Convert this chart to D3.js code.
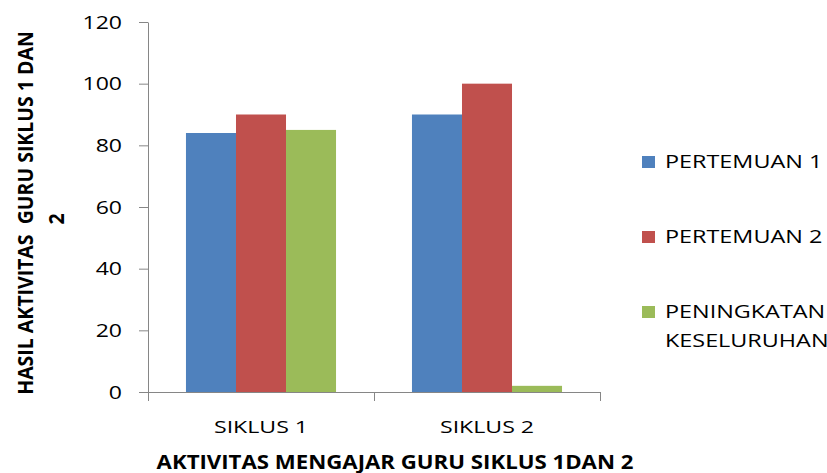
<!DOCTYPE html>
<html>
<head>
<meta charset="utf-8">
<script src="https://cdn.jsdelivr.net/npm/d3@7"></script>
<style>
  body { margin: 0; background: #fff; }
  text { font-family: "Open Sans", sans-serif; fill: #000; }
</style>
</head>
<body>
<svg id="chart" width="827" height="473"></svg>
<script>
const categories = ['SIKLUS 1', 'SIKLUS 2']
const seriesNames = ['PERTEMUAN 1', 'PERTEMUAN 2', 'PENINGKATAN KESELURUHAN']
const pertemuan1 = [84, 90]
const pertemuan2 = [90, 100]
const peningkatan = [85, 2]
const yTicks = [0, 20, 40, 60, 80, 100, 120]

const colors = ['#4f81bd', '#c0504d', '#9bbb59']
const axisColor = '#868686'
const stretch = 1.28

const svg = d3.select('#chart')

const values = [pertemuan1, pertemuan2, peningkatan]

const x0 = d3.scaleBand()
  .domain(categories)
  .range([148, 600])
  .paddingInner(0.336)
  .paddingOuter(0.168)

const x1 = d3.scaleBand()
  .domain(seriesNames)
  .range([0, x0.bandwidth()])

const y = d3.scaleLinear()
  .domain([0, 120])
  .range([392, 22])

// bars
const groups = svg.selectAll('g.cat')
  .data(categories)
  .enter()
  .append('g')
  .attr('class', 'cat')
  .attr('transform', d => `translate(${x0(d)},0)`)

groups.selectAll('rect')
  .data((d, i) => seriesNames.map((s, j) => ({ s, v: values[j][i], j })))
  .enter()
  .append('rect')
  .attr('x', d => x1(d.s))
  .attr('width', x1.bandwidth())
  .attr('y', d => y(d.v))
  .attr('height', d => y(0) - y(d.v))
  .style('fill', d => colors[d.j])

// y axis
const yAxis = svg.append('g')
  .attr('transform', 'translate(148,0)')
  .call(d3.axisLeft(y).tickValues(yTicks).tickSize(9).tickSizeOuter(0).tickFormat(''))
yAxis.selectAll('path, line').attr('stroke', axisColor)

svg.selectAll('text.ytick')
  .data(yTicks)
  .enter()
  .append('text')
  .attr('class', 'ytick')
  .attr('text-anchor', 'end')
  .attr('transform', d => `translate(122,${y(d) + 6.5}) scale(${stretch},1)`)
  .style('font-size', '18px')
  .text(d => d)

// x axis
const xb = d3.scaleLinear().domain([0, categories.length]).range(x0.range())
const xAxis = svg.append('g')
  .attr('transform', 'translate(0,392)')
  .call(d3.axisBottom(xb).tickValues(d3.range(categories.length + 1)).tickSize(9).tickSizeOuter(0).tickFormat(''))
xAxis.selectAll('path, line').attr('stroke', axisColor)

svg.selectAll('text.xcat')
  .data(categories)
  .enter()
  .append('text')
  .attr('class', 'xcat')
  .attr('text-anchor', 'middle')
  .attr('transform', d => `translate(${x0(d) + x0.bandwidth() / 2},433) scale(1.36,1)`)
  .style('font-size', '17px')
  .text(d => d)

// axis titles
svg.append('text')
  .attr('text-anchor', 'middle')
  .attr('transform', `translate(395,468.5) scale(1.17,1)`)
  .style('font-size', '19px')
  .style('font-weight', 'bold')
  .text('AKTIVITAS MENGAJAR GURU SIKLUS 1DAN 2')

const yTitle = ['HASIL AKTIVITAS  GURU SIKLUS 1 DAN', '2']
svg.selectAll('text.ytitle')
  .data(yTitle)
  .enter()
  .append('text')
  .attr('class', 'ytitle')
  .attr('text-anchor', 'middle')
  .attr('transform', (d, i) => `translate(${33 + i * 31},${213 + i * 6}) scale(1.1,1) rotate(-90)`)
  .style('font-size', '19.5px')
  .style('font-weight', 'bold')
  .style('white-space', 'pre')
  .text(d => d)

// legend
const legendLines = [['PERTEMUAN 1'], ['PERTEMUAN 2'], ['PENINGKATAN', 'KESELURUHAN']]
const legendBase = [168, 243, 318]

const legend = svg.selectAll('g.legend-element')
  .data(seriesNames)
  .enter()
  .append('g')
  .attr('class', 'legend-element')

legend.append('rect')
  .attr('x', 642)
  .attr('y', (d, i) => legendBase[i] - 12)
  .attr('width', 13)
  .attr('height', 12)
  .style('fill', (d, i) => colors[i])

legend.each(function (d, i) {
  d3.select(this).selectAll('text')
    .data(legendLines[i])
    .enter()
    .append('text')
    .attr('transform', (t, k) => `translate(665,${legendBase[i] + k * 29}) scale(1.3,1)`)
    .style('font-size', '18px')
    .text(t => t)
})
</script>
</body>
</html>
